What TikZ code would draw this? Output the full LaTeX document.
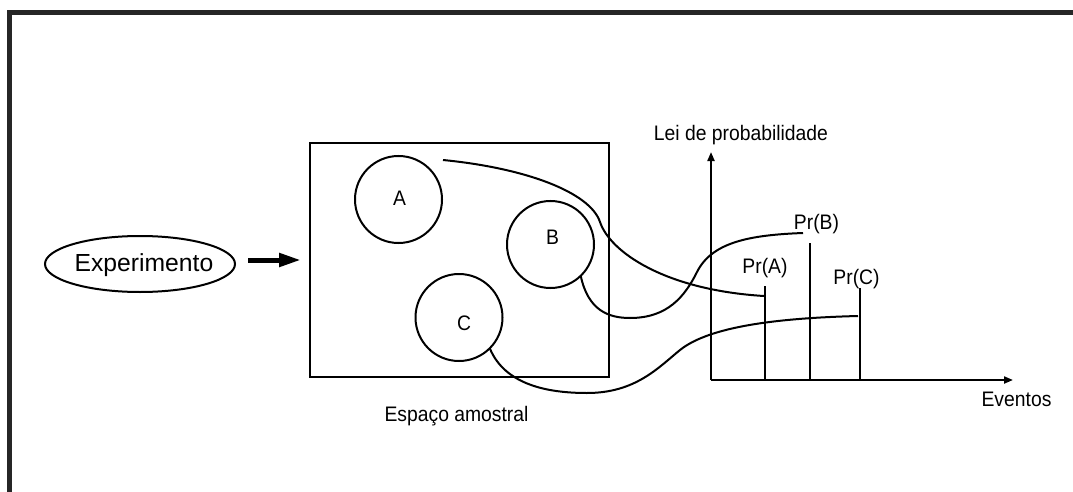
\documentclass[tikz,border=0pt]{standalone}
\usepackage{fontspec}
\setmainfont{Liberation Sans}
\newfontfamily\narrowsans[FakeStretch=0.92]{Liberation Sans}
\usetikzlibrary{arrows.meta,shapes.geometric}
\begin{document}
\begin{tikzpicture}[x=1pt,y=-1pt,
  every node/.style={inner sep=0pt, outer sep=0pt},
  lbl/.style={font=\narrowsans\fontsize{21}{24}\selectfont, anchor=base},
  biglbl/.style={font=\fontsize{24.7}{28}\selectfont, anchor=base},
  setcircle/.style={draw, line width=2pt, circle, minimum size=87pt},
  link/.style={line width=2pt},
  axis/.style={line width=2pt, -{Triangle[length=9pt,width=7pt]}},
  bar/.style={line width=2pt},
  framestyle/.style={line width=4.5pt, draw=black!85}
]
\useasboundingbox (0,0) rectangle (1073,492);
% outer frame (top and left sides visible)
\coordinate (fTL) at (9.5,12.3);
\coordinate (fTR) at (1080,12.3);
\coordinate (fBL) at (9.5,500);
\draw[framestyle] (fTR) -- (fTL) -- (fBL);

% experiment
\node[draw, line width=2pt, ellipse, minimum width=190pt, minimum height=56pt] (exp) at (140,264) {};
\node[biglbl] (exptxt) at (144,271) {Experimento};

% sample space
\node[draw, line width=2pt, minimum width=299pt, minimum height=234pt] (space) at (459.5,260) {};
\node[lbl] (spacetxt) at (456.5,421) {Espaço amostral};
\coordinate (arrS) at (248,260);
\coordinate (arrE) at (301,260);
\draw[line width=5pt, -{Triangle[length=22pt,width=13pt]}] (arrS) -- (arrE);

\node[setcircle] (cA) at (398.5,199.5) {};
\node[setcircle] (cB) at (550.5,244.5) {};
\node[setcircle] (cC) at (459,317.5) {};
\node[lbl] (tA) at (399.5,205) {A};
\node[lbl] (tB) at (552.5,244) {B};
\node[lbl] (tC) at (464,330) {C};

% axes
\coordinate (O) at (711,380);
\coordinate (ytip) at (711,152);
\coordinate (xtip) at (1013,380);
\draw[axis] (O) -- (ytip);
\draw[axis] (O) -- (xtip);
\node[lbl] (ylab) at (741,141) {Lei de probabilidade};
\node[lbl] (xlab) at (1016.5,406.7) {Eventos};

% bars
\coordinate (bAt) at (765,286);
\coordinate (bAb) at (765,380);
\coordinate (bBt) at (810,243);
\coordinate (bBb) at (810,380);
\coordinate (bCt) at (860,288);
\coordinate (bCb) at (860,380);
\draw[bar] (bAt) -- (bAb);
\draw[bar] (bBt) -- (bBb);
\draw[bar] (bCt) -- (bCb);
\node[lbl] (pA) at (765,273) {Pr(A)};
\node[lbl] (pB) at (816.5,229) {Pr(B)};
\node[lbl] (pC) at (856.5,284) {Pr(C)};

% links
\coordinate (s1) at (443,160);
\coordinate (e1) at (764,296);
\coordinate (e2) at (803,233);
\coordinate (e3) at (858,316);
\draw[link] (s1) .. controls (525,168) and (590,192) .. (600,222)
  .. controls (610,252) and (665,290) .. (e1);
\draw[link] (cB.-46) .. controls (588,310) and (608,318) .. (630,318)
  .. controls (668,318) and (685,296) .. (697,272)
  .. controls (712,242) and (750,235) .. (e2);
\draw[link] (cC.-45) .. controls (505,385) and (548,393) .. (587,393)
  .. controls (635,393) and (658,368) .. (680,350)
  .. controls (710,326) and (780,318) .. (e3);
\end{tikzpicture}
\end{document}
